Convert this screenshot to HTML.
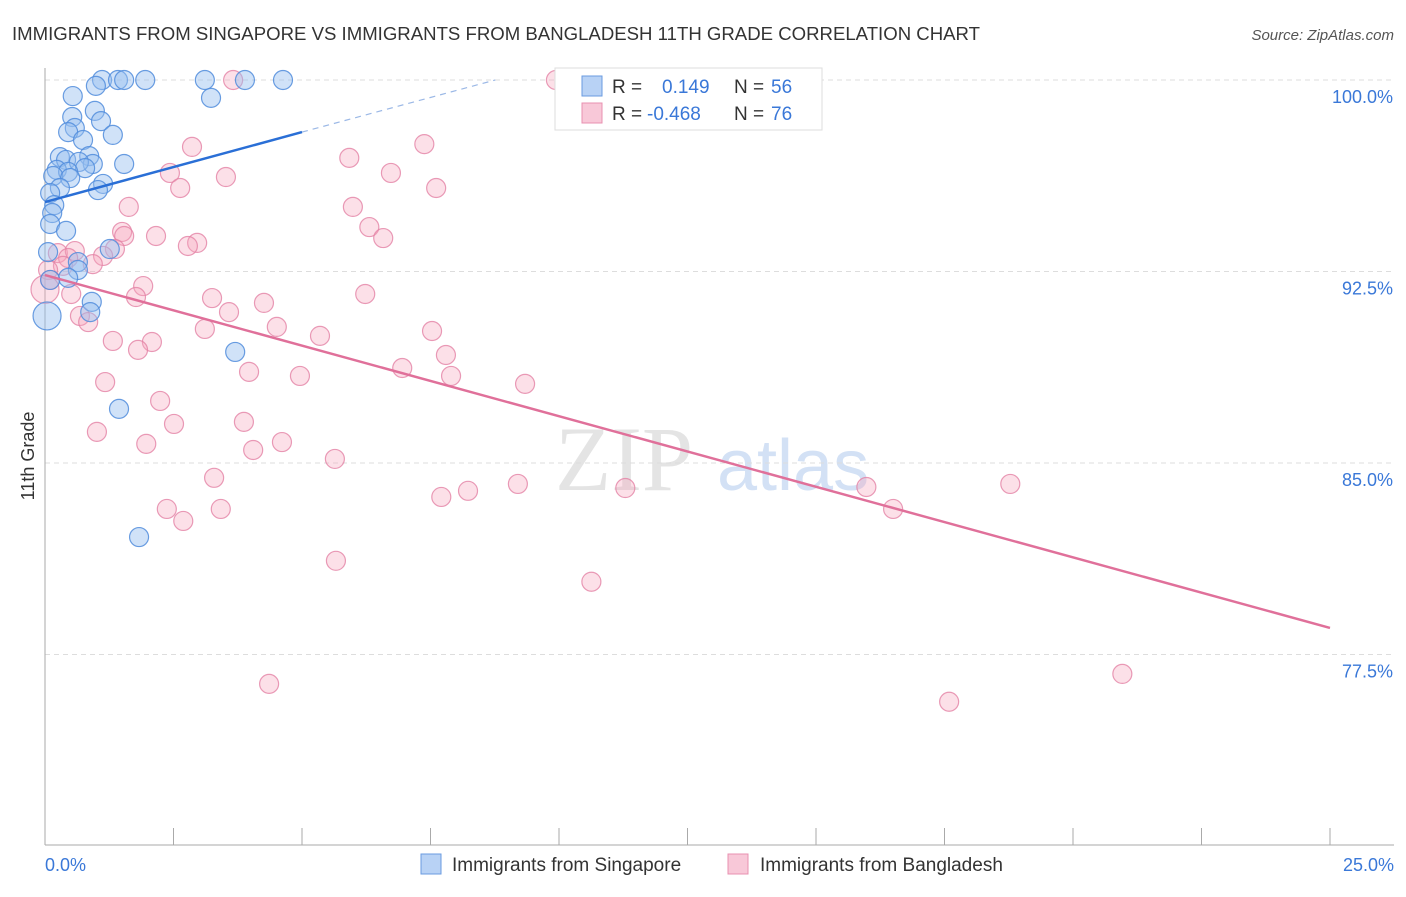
<!DOCTYPE html>
<html><head><meta charset="utf-8"><style>
body{margin:0;background:#fff;font-family:"Liberation Sans",sans-serif;}
svg text{font-family:"Liberation Sans",sans-serif;}
</style></head><body>
<svg width="1406" height="892" viewBox="0 0 1406 892" id="chart">
<text x="12" y="40" font-size="18.5" fill="#333" textLength="968" lengthAdjust="spacingAndGlyphs">IMMIGRANTS FROM SINGAPORE VS IMMIGRANTS FROM BANGLADESH 11TH GRADE CORRELATION CHART</text>
<text x="1394" y="40" font-size="15" fill="#555" font-style="italic" text-anchor="end">Source: ZipAtlas.com</text>
<g>
<text x="555" y="490" font-size="92" fill="#e4e4e4" font-family="Liberation Serif" style="font-family:'Liberation Serif',serif">ZIP</text>
<text x="717" y="490" font-size="72" fill="#d3e1f5">atlas</text>
</g>
<g id="grid"></g>
<g id="axes"></g>
<g id="marks"></g>
<g id="trends"></g>
<g>
<rect x="555" y="68" width="267" height="62" fill="#fff" stroke="#ddd"/>
<rect x="582" y="76" width="20" height="20" fill="#b8d2f5" stroke="#6a9be0"/>
<rect x="582" y="103" width="20" height="20" fill="#f8c8d8" stroke="#e890b0"/>
<text x="612" y="93" font-size="19" fill="#333">R =</text>
<text x="662" y="93" font-size="19" fill="#3a78d8">0.149</text>
<text x="734" y="93" font-size="19" fill="#333">N =</text>
<text x="771" y="93" font-size="19" fill="#3a78d8">56</text>
<text x="612" y="120" font-size="19" fill="#333">R =</text>
<text x="647" y="120" font-size="19" fill="#3a78d8">-0.468</text>
<text x="734" y="120" font-size="19" fill="#333">N =</text>
<text x="771" y="120" font-size="19" fill="#3a78d8">76</text>
</g>
<g>
<rect x="421" y="854" width="20" height="20" fill="#b8d2f5" stroke="#6a9be0"/>
<text x="452" y="871" font-size="19" fill="#333">Immigrants from Singapore</text>
<rect x="728" y="854" width="20" height="20" fill="#f8c8d8" stroke="#e890b0"/>
<text x="760" y="871" font-size="19" fill="#333">Immigrants from Bangladesh</text>
</g>
<text transform="translate(34,456) rotate(-90)" font-size="18" fill="#333" text-anchor="middle">11th Grade</text>
</svg>
<script>
const xTicks=[0,2.5,5,7.5,10,12.5,15,17.5,20,22.5,25];
const yTicks=[100,92.5,85,77.5];
const yTickLabels=["100.0%","92.5%","85.0%","77.5%"];
const xEndLabels=["0.0%","25.0%"];
const singX=[1.11,1.42,1.54,1.95,3.11,3.89,4.63,0.99,3.23,0.54,0.97,0.53,1.09,0.58,0.45,1.32,0.74,0.86,0.29,0.41,0.93,0.66,0.78,1.54,0.23,0.45,0.16,0.49,1.13,1.03,0.29,0.10,0.18,0.14,0.10,0.41,1.26,0.06,0.64,0.64,0.45,0.10,0.91,0.88,0.04,3.70,1.44,1.83];
const singY=[100,100,100,100,100,100,100,99.77,99.30,99.37,98.79,98.55,98.39,98.12,97.96,97.85,97.65,97.02,96.98,96.87,96.71,96.79,96.55,96.71,96.48,96.40,96.24,96.16,95.93,95.69,95.77,95.57,95.10,94.79,94.36,94.09,93.38,93.26,92.87,92.56,92.25,92.17,91.31,90.91,90.76,89.35,87.12,82.10];
const bangX=[3.66,9.94,7.38,2.86,5.92,6.73,2.43,3.52,2.63,7.61,5.99,1.63,1.50,6.31,2.16,1.54,6.58,2.96,2.78,1.36,0.25,0.58,1.13,0.45,0.93,0.35,0.06,0.10,1.91,6.23,0.51,3.25,1.77,4.26,3.58,0.68,0.84,3.11,4.51,5.35,7.53,1.32,2.08,1.81,7.80,6.95,3.97,7.90,4.96,9.34,1.17,2.24,3.87,2.51,1.01,1.97,4.61,4.05,5.64,3.29,9.20,8.23,7.71,11.29,15.98,18.78,16.50,2.37,3.42,2.69,5.66,10.63,4.36,20.96,17.59,0];
const bangY=[100,100,97.49,97.38,96.95,96.36,96.36,96.20,95.77,95.77,95.03,95.03,94.05,94.24,93.89,93.89,93.81,93.62,93.50,93.38,93.22,93.30,93.11,93.03,92.79,92.72,92.56,92.17,91.93,91.62,91.62,91.46,91.50,91.27,90.91,90.76,90.52,90.25,90.33,89.98,90.17,89.78,89.74,89.43,89.23,88.72,88.57,88.41,88.41,88.10,88.17,87.43,86.61,86.53,86.22,85.75,85.82,85.51,85.16,84.42,84.18,83.91,83.67,84.02,84.06,84.18,83.20,83.20,83.20,82.73,81.17,80.35,76.35,76.74,75.65,91.8];
const singTrend=[[0,95.22],[5,97.96]];
const singTrendDash=[[5,97.96],[8.76,100]];
const bangTrend=[[0,92.36],[25,78.54]];
const NS="http://www.w3.org/2000/svg";
const X=v=>45+v/25*1285;
const Y=v=>80+(100-v)/7.5*191.5;
function mk(tag,attrs,parent){const e=document.createElementNS(NS,tag);for(const k in attrs)e.setAttribute(k,attrs[k]);parent.appendChild(e);return e;}
const grid=document.getElementById('grid'),axes=document.getElementById('axes'),marks=document.getElementById('marks'),trends=document.getElementById('trends');
yTicks.forEach((t,i)=>{
 const l=mk('line',{x1:45,x2:1394,y1:Y(t),y2:Y(t),stroke:'#ddd','stroke-dasharray':'5,4'},grid);
 
 
 const tx=mk('text',{x:1393,y:Y(t)+23,'font-size':18,fill:'#3a78d8','text-anchor':'end'},axes);
 tx.textContent=yTickLabels[i];
 
 
});
const ya=mk('line',{x1:45,x2:45,y1:68,y2:845,stroke:'#aaa'},axes);


const xa=mk('line',{x1:45,x2:1394,y1:845,y2:845,stroke:'#aaa'},axes);


xTicks.forEach(t=>{
 const l=mk('line',{x1:X(t),x2:X(t),y1:828,y2:845,stroke:'#aaa'},axes);
 
 
});
[[0,'start',45],[25,'end',1394]].forEach((d,i)=>{
 const tx=mk('text',{x:d[2],y:871,'font-size':18,fill:'#3a78d8','text-anchor':d[1]},axes);
 tx.textContent=xEndLabels[i];
 
 
});
function dots(xs,ys,fill,stroke,name,bigIdx){
 xs.forEach((x,i)=>{
  const c=mk('circle',{cx:X(x),cy:Y(ys[i]),r:i===bigIdx?14:9.5,fill:fill,stroke:stroke,'stroke-width':1.2},marks);
  
  
 });
}
dots(bangX,bangY,'rgba(245,165,190,0.35)','rgba(228,130,165,0.8)','bangladesh-point',bangX.length-1);
dots(singX,singY,'rgba(150,190,240,0.45)','rgba(80,140,220,0.85)','singapore-point',44);
function line(p,stroke,w,dash,name){
 const l=mk('line',{x1:X(p[0][0]),y1:Y(p[0][1]),x2:X(p[1][0]),y2:Y(p[1][1]),stroke:stroke,'stroke-width':w},trends);
 if(dash)l.setAttribute('stroke-dasharray',dash);
 
 
}
line(singTrend,'#2a6fd6',2.5,null,'singapore-trend-line');
line(singTrendDash,'#9bb8e6',1.2,'6,5','singapore-trend-extension');
line(bangTrend,'#e0709a',2.5,null,'bangladesh-trend-line');
</script>
</body></html>
